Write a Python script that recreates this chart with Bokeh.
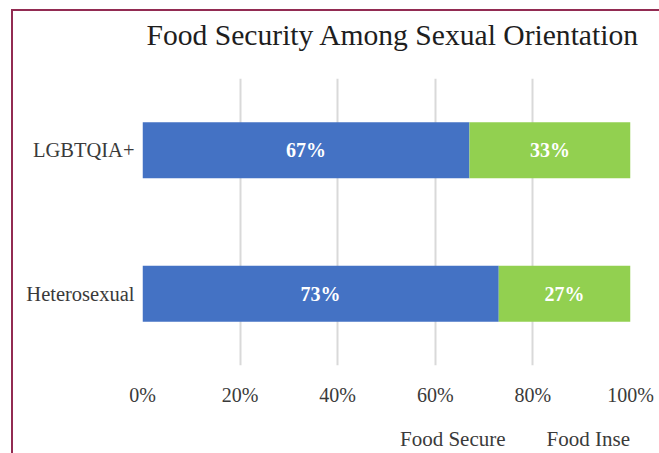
from bokeh.plotting import figure
from bokeh.layouts import column
from bokeh.models import (ColumnDataSource, FactorRange, Range1d, FixedTicker,
                          NumeralTickFormatter, Legend, LegendItem, LabelSet, Title)
from bokeh.embed import file_html
from bokeh.resources import INLINE

# ---- data ----
categories = ["Heterosexual", "LGBTQIA+"]
food_secure = [0.73, 0.67]
food_insecure = [0.27, 0.33]
series_names = ["Food Secure", "Food Insecure"]
tick_values = [0, 0.2, 0.4, 0.6, 0.8, 1.0]
title_text = "Food Security Among Sexual Orientation"

BLUE = "#4472C4"
GREEN = "#92D050"
TXT = "#3a3a3a"
FONT = "Liberation Serif"

source = ColumnDataSource(dict(
    cat=categories,
    secure=food_secure,
    insecure=food_insecure,
))

fig = figure(frame_width=488, frame_height=287,
             y_range=FactorRange(factors=categories, range_padding=0),
             x_range=Range1d(0, 1), output_backend="svg", toolbar_location=None,
             min_border_left=129, min_border_right=29, min_border_top=67, min_border_bottom=35)

# spacer between frame and title
fig.add_layout(Title(text=" ", text_font_size="1px", standoff=23), "above")

fig.title.text = title_text
fig.title.align = "left"
fig.title.offset = 4
fig.title.vertical_align = "top"
fig.title.standoff = 0
fig.title.text_font = FONT
fig.title.text_font_size = "29.6px"
fig.title.text_font_style = "normal"
fig.title.text_color = "#1e1e1e"

renderers = fig.hbar_stack(["secure", "insecure"], y="cat", height=0.39,
                           color=[BLUE, GREEN], line_color=None, source=source)

# segment labels
lab_x, lab_y, lab_t = [], [], []
for c, s, i in zip(categories, food_secure, food_insecure):
    lab_x += [s / 2, s + i / 2]
    lab_y += [c, c]
    lab_t += [f"{round(s * 100)}%", f"{round(i * 100)}%"]
lsrc = ColumnDataSource(dict(x=lab_x, y=lab_y, t=lab_t))
fig.add_layout(LabelSet(x="x", y="y", text="t", source=lsrc, text_align="center",
                        text_baseline="middle", text_color="white", text_font=FONT,
                        text_font_size="20px", text_font_style="bold"))

# axes
fig.xaxis.ticker = FixedTicker(ticks=tick_values)
fig.xaxis.formatter = NumeralTickFormatter(format="0%")
for ax in (fig.xaxis, fig.yaxis):
    ax.axis_line_color = None
    ax.major_tick_line_color = None
    ax.minor_tick_line_color = None
    ax.major_label_text_font = FONT
    ax.major_label_text_font_size = "20px"
    ax.major_label_text_color = TXT
fig.xaxis.major_label_standoff = 12
fig.yaxis.major_label_standoff = 2
fig.yaxis.major_label_text_font_size = "20.5px"

fig.xgrid.grid_line_color = "#D9D9D9"
fig.xgrid.grid_line_width = 2
fig.ygrid.grid_line_color = None
fig.outline_line_color = None

# ---- legend strip below the chart ----
leg = figure(width=646, height=53, x_range=Range1d(0, 1), y_range=Range1d(0, 1),
             output_backend="svg", toolbar_location=None,
             x_axis_location=None, y_axis_location=None, min_border=0)
leg.grid.visible = False
leg.outline_line_color = None
r_sec = leg.hbar(y=[], right=[], height=0.5, color=BLUE, line_color=None)
r_ins = leg.hbar(y=[], right=[], height=0.5, color=GREEN, line_color=None)
legend = Legend(items=[LegendItem(label=series_names[0], renderers=[r_sec]),
                       LegendItem(label=series_names[1], renderers=[r_ins])],
                location=(242, 9), orientation="horizontal", padding=0, margin=0,
                spacing=25, label_standoff=4, glyph_width=12, glyph_height=12,
                label_text_font=FONT, label_text_font_size="21px", label_text_color=TXT,
                border_line_color=None, background_fill_alpha=0)
leg.add_layout(legend, "center")

p = column(fig, leg, spacing=0,
           styles={"margin-left": "11px", "margin-top": "9px",
                   "border-left": "2px solid #922B52", "border-top": "2px solid #922B52"})

open("out.html", "w").write(file_html(p, INLINE))
